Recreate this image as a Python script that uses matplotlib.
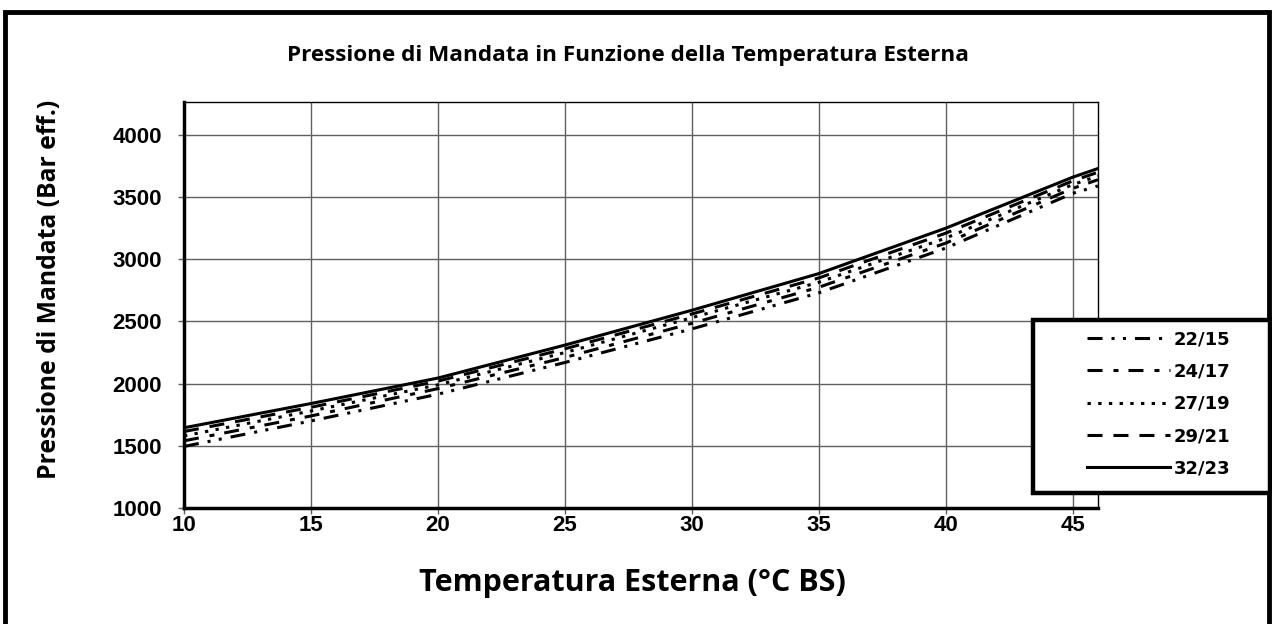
import matplotlib.pyplot as plt
from matplotlib.patches import Rectangle

# ---------------------------------------------------------------------------
# Data
# ---------------------------------------------------------------------------
temp_ext = [10, 15, 20, 25, 30, 35, 40, 45, 46]

p_22_15 = [1495, 1700, 1915, 2170, 2440, 2730, 3090, 3530, 3590]
p_24_17 = [1540, 1740, 1960, 2210, 2485, 2775, 3130, 3570, 3640]
p_27_19 = [1580, 1780, 1990, 2250, 2530, 2815, 3170, 3600, 3670]
p_29_21 = [1615, 1810, 2020, 2280, 2560, 2850, 3210, 3630, 3700]
p_32_23 = [1645, 1840, 2045, 2310, 2590, 2885, 3250, 3660, 3730]

labels = ["22/15", "24/17", "27/19", "29/21", "32/23"]
x_ticks = [10, 15, 20, 25, 30, 35, 40, 45]
y_ticks = [1000, 1500, 2000, 2500, 3000, 3500, 4000]

# ---------------------------------------------------------------------------
# Style
# ---------------------------------------------------------------------------
plt.rcParams["lines.scale_dashes"] = False
GRID = "#606060"
styles = [
    (0, (10.8, 6.5, 2.2, 6.0, 2.2, 6.5)),  # dash-dot-dot
    (0, (10.8, 7.9, 3.6, 7.2)),  # dash-dot
    (0, (2.4, 5.3)),  # dotted
    (0, (10.8, 7.9)),  # dashed
    "-",  # solid
]

fig = plt.figure(figsize=(12.72, 6.24), dpi=100)
W, H = 1272, 624

# outer frame
fig.patches.append(
    Rectangle((5 / W, -0.02), 1264 / W, 1.02 - 12 / H, transform=fig.transFigure,
              fill=False, edgecolor="black", linewidth=3.5)
)

ax = fig.add_axes([184 / W, 1 - 508 / H, 914 / W, 406 / H])

series = [p_22_15, p_24_17, p_27_19, p_29_21, p_32_23]
handles = []
for vals, ls, lab in zip(series, styles, labels):
    (h,) = ax.plot(temp_ext, vals, color="black", linewidth=2.2,
                   linestyle=ls, label=lab, dash_capstyle="butt")
    handles.append(h)

ax.set_xlim(10, 46)
ax.set_ylim(1000, 4265)
ax.set_xticks(x_ticks)
ax.set_yticks(y_ticks)
ax.grid(True, color=GRID, linewidth=1.0)
ax.set_axisbelow(True)

for side in ["left", "bottom"]:
    ax.spines[side].set_linewidth(2.5)
for side in ["top", "right"]:
    ax.spines[side].set_linewidth(1.0)
    ax.spines[side].set_color("black")

ax.tick_params(axis="both", direction="out", length=4, width=1, color=GRID)
ax.tick_params(axis="y", pad=12)
ax.tick_params(axis="x", pad=1)
for lab in ax.get_xticklabels() + ax.get_yticklabels():
    lab.set_fontfamily("Liberation Sans")
    lab.set_fontweight("bold")
    lab.set_fontsize(16)

fig.text(628 / W, 1 - 55 / H,
         "Pressione di Mandata in Funzione della Temperatura Esterna",
         ha="center", va="center", fontfamily="Open Sans", fontweight="bold",
         fontsize=16.2)
fig.text(632 / W, 1 - 583 / H, "Temperatura Esterna (°C BS)",
         ha="center", va="center", fontfamily="Open Sans", fontweight="bold",
         fontsize=22)
fig.text(50 / W, 1 - 289 / H, "Pressione di Mandata (Bar eff.)",
         ha="center", va="center", rotation=90, fontfamily="Open Sans",
         fontweight="bold", fontsize=17.8)

# legend box
fig.patches.append(
    Rectangle((1033 / W, 1 - 493 / H), 237 / W, 173 / H,
              transform=fig.transFigure, facecolor="white",
              edgecolor="black", linewidth=3.2, zorder=5)
)
leg = fig.legend(handles=handles, labels=labels, loc="upper left",
                 bbox_to_anchor=(1078 / W, 1 - 321 / H),
                 frameon=False, borderpad=0, handlelength=4.6,
                 handletextpad=0.2, labelspacing=0.8,
                 prop={"family": "DejaVu Sans", "weight": "bold",
                       "size": 13})
leg.set_zorder(6)

fig.savefig("out.png", dpi=100, facecolor="white")
